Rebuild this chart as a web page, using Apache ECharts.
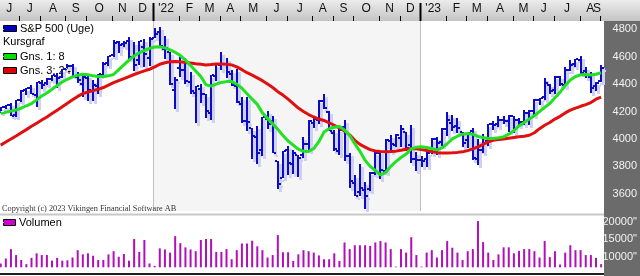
<!DOCTYPE html>
<html><head><meta charset="utf-8">
<script src="https://cdn.jsdelivr.net/npm/echarts@6/dist/echarts.min.js"></script>
<style>html,body{margin:0;padding:0;background:#fff}#c{width:640px;height:276px}</style>
</head><body><div id="c"></div><script>
// Weekly S&P 500 bars, week index 0 = week ending Fri 4 Jun 2021 ... 117 = week ending Fri 1 Sep 2023
const openP = [4216,4230,4248,4174,4285,4356,4372,4318,4411,4406,4438,4462,4450,4513,4535,4449,4402,4444,4349,4386,4464,4553,4610,4707,4689,4712,4599,4572,4669,4587,4733,
4778,4655,4632,4357,4519,4506,4412,4332,4363,4328,4188,4462,4542,4547,4474,4385,4255,4130,4082,4014,3920,4147,4134,3838,3715,3920,3815,3880,3883,3965,4113,4138,4280,4195,4041,3910,4084,3873,3682,3610,3625,3638,3754,3901,3766,3982,3956,4006,4053,3954,3853,3843,
3853,3910,3999,3979,4071,4119,4096,4052,3992,4055,3855,3917,3986,4112,4110,4136,4133,4166,4136,4126,4192,4205,4282,4304,4396,4354,4450,4394,4501,4543,4578,4492,4454,4389,4426];
const highP = [4234,4249,4262,4287,4356,4372,4393,4415,4430,4441,4468,4480,4513,4545,4549,4485,4466,4465,4429,4475,4559,4608,4718,4714,4717,4743,4705,4713,4732,4740,4808,
4818,4749,4632,4453,4595,4590,4489,4385,4402,4329,4465,4546,4637,4593,4500,4513,4309,4308,4082,4091,4158,4205,4169,3838,3913,3946,3918,3880,4013,4141,4167,4281,4325,4204,4062,4076,4139,3899,3736,3820,3685,3762,3905,3912,3999,4028,4034,4101,4053,4101,3906,3878,
3906,4004,4015,4078,4195,4176,4156,4052,4048,4079,4000,4039,4110,4133,4164,4170,4171,4170,4155,4212,4213,4290,4298,4448,4400,4458,4456,4528,4578,4583,4607,4528,4490,4418,4541];
const lowP = [4188,4220,4164,4164,4271,4321,4326,4233,4362,4387,4425,4367,4450,4513,4458,4406,4306,4279,4279,4329,4464,4537,4595,4630,4672,4585,4496,4538,4531,4531,4733,
4662,4582,4395,4223,4451,4401,4327,4115,4267,4157,4138,4425,4506,4450,4381,4268,4118,4062,3859,3811,3875,4074,3901,3637,3715,3738,3743,3722,3863,3913,4080,4108,4218,4057,3907,3886,3838,3647,3584,3585,3491,3624,3735,3705,3751,3906,3937,3941,3918,3827,3764,3800,
3794,3885,3886,3949,4017,4061,4047,3944,3928,3847,3809,3899,3950,4069,4086,4113,4049,4048,4098,4099,4103,4166,4247,4291,4328,4328,4385,4384,4497,4528,4475,4450,4335,4356,4417];
const closeP = [4230,4247,4166,4281,4352,4370,4327,4412,4395,4437,4468,4442,4509,4535,4458,4433,4455,4357,4391,4471,4545,4605,4697,4682,4698,4595,4538,4712,4620,4726,4766,
4677,4662,4398,4432,4500,4419,4349,4385,4329,4204,4463,4543,4546,4488,4393,4272,4132,4123,4024,3901,4158,4109,3901,3675,3912,3825,3899,3863,3962,4130,4145,4280,4228,4058,3924,4067,3873,3693,3586,3640,3583,3753,3901,3771,3993,3965,4026,4072,3934,3852,3845,3840,
3895,3999,3973,4071,4136,4090,4079,3970,4046,3862,3917,3971,4109,4105,4138,4133,4169,4136,4124,4192,4205,4282,4299,4410,4348,4450,4399,4505,4536,4582,4478,4464,4370,4406,4516];
// Gns. 1: 8 (green) and Gns. 3: 24 (red)
const ma8 = [4187,4195,4203,4211,4225,4242,4258,4285,4313,4335,4362,4390,4415,4435,4452,4465,4471,4468,4460,4455,4455,4460,4470,4505,4540,4575,4605,4628,4645,4660,4670,
4672,4664,4650,4632,4608,4575,4535,4495,4455,4395,4385,4400,4412,4418,4418,4400,4370,4330,4290,4252,4190,4150,4110,4070,4025,3985,3955,3925,3910,3908,3930,3980,4050,4075,4085,4090,4065,4025,3965,3910,3845,3800,3770,3738,3755,3800,3835,3865,3890,3928,3940,3943,
3937,3930,3920,3935,3965,4000,4020,4035,4040,4035,4018,4010,4004,4004,4008,4015,4035,4060,4095,4120,4145,4170,4200,4230,4258,4300,4340,4390,4430,4455,4468,4470,4466,4472,4483];
const ma24 = [3955,3978,4000,4022,4045,4068,4092,4115,4138,4160,4185,4210,4235,4260,4285,4310,4330,4342,4352,4362,4375,4392,4410,4425,4440,4455,4470,4483,4496,4508,4525,
4545,4556,4562,4564,4562,4558,4553,4548,4544,4540,4542,4546,4547,4545,4540,4525,4505,4483,4465,4445,4425,4400,4375,4345,4320,4290,4258,4225,4200,4178,4160,4145,4135,4118,4100,4080,4058,4030,3990,3960,3940,3922,3912,3908,3907,3908,3911,3918,3925,3931,3928,3922,
3916,3908,3900,3898,3898,3899,3902,3906,3915,3928,3942,3960,3980,3990,3995,3999,4005,4011,4016,4020,4027,4045,4075,4100,4120,4145,4165,4190,4210,4225,4238,4250,4265,4290,4305];
const volume = [8100,9500,12200,10500,9100,7900,9700,11000,10500,10500,8900,9700,8900,9000,9800,11900,10700,11000,10300,9100,9100,10700,11600,10000,10800,8900,15100,11400,14800,8100,7400,
12400,12100,11200,15900,13900,12700,12100,11600,14800,15100,15100,11400,11400,12200,9300,11900,13800,13800,14600,13000,11900,9800,10500,16200,11300,11300,8800,10700,11900,11600,11200,10400,9300,9300,11000,8800,14100,12200,13300,13300,13300,13100,14100,14500,14100,12200,7200,12200,11200,15600,10500,7200,
11200,11900,9800,11900,14500,12600,11200,9100,11600,12200,20200,14200,11200,9100,10700,12700,12700,11000,11700,12200,12200,11600,9800,14500,9900,11600,7800,11200,13300,11900,11900,10500,10500,9700,7900];
// month boundaries (first week index of each month) and top-axis labels
const monthStart = [0,4,8,13,17,22,26,30,35,39,43,47,52,56,61,65,69,74,78,82,87,91,95,100,104,108,113,117];
const monthLabels = ['J','J','A','S','O','N','D',"'22",'F','M','A','M','J','J','A','S','O','N','D',"'23",'F','M','A','M','J','J','A','S'];
const priceTicks = [3600,3800,4000,4200,4400,4600,4800];
const volumeTicks = [10000,15000,20000];

const XMIN = -0.136, XMAX = 117.364, TOFF = 0.4;
const chart = echarts.init(document.getElementById('c'), null, {renderer:'canvas'});
const FONT = '"Liberation Sans", Arial, sans-serif';

function ohlcItem(color, dx, dy, w) {
  return function (params, api) {
    const i = api.value(0);
    const pH = api.coord([i, api.value(2)]), pL = api.coord([i, api.value(3)]);
    const pO = api.coord([i, api.value(1)]), pC = api.coord([i, api.value(4)]);
    const x = Math.round(pH[0]);
    const st = {fill: color};
    return {type:'group', children:[
      {type:'rect', shape:{x:x-1+dx, y:Math.round(pH[1])+dy, width:w, height:Math.max(2,Math.round(pL[1]-pH[1]))}, style:st},
      {type:'rect', shape:{x:x-3+dx, y:Math.round(pO[1])-1+dy, width:2, height:2}, style:st},
      {type:'rect', shape:{x:x+1+dx, y:Math.round(pC[1])-1+dy, width:2, height:2}, style:st}
    ]};
  };
}
const ohlcData = openP.map((o,i)=>[i,o,highP[i],lowP[i],closeP[i]]);

const option = {
  animation:false,
  grid:[
    {left:0, top:21, width:604, height:192},
    {left:0, top:214.8, width:604, height:52.5},
    {left:0, top:0, width:604, height:21}
  ],
  xAxis:[
    {type:'value', gridIndex:0, min:XMIN, max:XMAX, show:false},
    {type:'value', gridIndex:1, min:XMIN, max:XMAX, show:false},
    {type:'value', gridIndex:2, min:XMIN, max:XMAX, show:false}
  ],
  yAxis:[
    {type:'value', gridIndex:0, position:'right', min:3460, max:4860, z:10,
     splitLine:{show:false}, axisLine:{show:false},
     axisTick:{show:true, length:3, customValues:priceTicks, lineStyle:{color:'#ffffff', width:1}},
     axisLabel:{customValues:priceTicks, align:'right', margin:34, color:'#f2f2f2', fontSize:11, fontFamily:FONT, formatter:v=>String(v)}},
    {type:'value', gridIndex:1, position:'right', min:7000, max:22000, z:10,
     splitLine:{show:false}, axisLine:{show:false},
     axisTick:{show:true, length:3, customValues:volumeTicks, lineStyle:{color:'#ffffff', width:1}},
     axisLabel:{customValues:volumeTicks, align:'right', margin:34, color:'#f2f2f2', fontSize:11, fontFamily:FONT, formatter:v=>String(v)+'"'}},
    {type:'value', gridIndex:2, min:0, max:1, show:false}
  ],
  graphic:[
    {type:'rect', z:0, shape:{x:0,y:0,width:640,height:21}, silent:true,
     style:{fill:new echarts.graphic.LinearGradient(0,0,0,1,[{offset:0,color:'#ececec'},{offset:1,color:'#c4c4c4'}])}},
    {type:'rect', z:0, shape:{x:604,y:21,width:36,height:255}, style:{fill:'#6b6b6b'}, silent:true},
    {type:'line', z:1, shape:{x1:0,y1:214.5,x2:604,y2:214.5}, style:{stroke:'#c8c8c8', lineWidth:2}},
    {type:'line', z:1, shape:{x1:0,y1:274,x2:604,y2:274}, style:{stroke:'#202020', lineWidth:2}},
    // legend (drawn under the series like the original)
    {type:'rect', z:1, shape:{x:3.5,y:25.5,width:13,height:6}, style:{fill:'#0000c0', stroke:'#000', lineWidth:1}},
    {type:'text', z:1, x:20, y:29, style:{text:'S&P 500 (Uge)', fill:'#000', font:'11px '+FONT, verticalAlign:'middle'}},
    {type:'text', z:1, x:3, y:42, style:{text:'Kursgraf', fill:'#000', font:'11px '+FONT, verticalAlign:'middle'}},
    {type:'rect', z:1, shape:{x:3.5,y:53.5,width:13,height:6}, style:{fill:'#00e000', stroke:'#000', lineWidth:1}},
    {type:'text', z:1, x:20, y:56.5, style:{text:'Gns. 1: 8', fill:'#000', font:'11px '+FONT, verticalAlign:'middle'}},
    {type:'rect', z:1, shape:{x:3.5,y:67.5,width:13,height:6}, style:{fill:'#e00000', stroke:'#000', lineWidth:1}},
    {type:'text', z:1, x:20, y:70.5, style:{text:'Gns. 3: 24', fill:'#000', font:'11px '+FONT, verticalAlign:'middle'}},
    {type:'text', z:20, x:2, y:208.5, scaleX:0.92, style:{text:'Copyright (c) 2023 Vikingen Financial Software AB', fill:'#333', font:'9px "Liberation Serif", "Times New Roman", serif', verticalAlign:'middle'}},
    {type:'rect', z:1, shape:{x:3.5,y:219.5,width:12,height:6}, style:{fill:'#d000d0', stroke:'#000', lineWidth:1}},
    {type:'text', z:1, x:19, y:222.5, style:{text:'Volumen', fill:'#000', font:'11px '+FONT, verticalAlign:'middle'}}
  ],
  series:[
    // month axis, year separators and 2022 shading
    {type:'custom', xAxisIndex:2, yAxisIndex:2, z:1, silent:true,
     data: monthStart.map((s,k)=>[s - TOFF, k]),
     renderItem:(params, api)=>{
       const k = api.value(1);
       const x = Math.round(api.coord([api.value(0),0])[0]) + 0.5;
       const nextV = k < monthStart.length-1 ? monthStart[k+1]-TOFF : XMAX;
       const xn = api.coord([nextV,0])[0];
       const lab = monthLabels[k];
       const isYear = lab.charAt(0)==="'";
       const ch = [];
       let cx = (x + xn)/2, align='center';
       if (k === monthStart.length-1) { cx = 601; align='right'; }
       ch.push({type:'text', x:cx, y:8.5, style:{text:lab, fill:'#111', font:'12px '+FONT, align:align, verticalAlign:'middle'}});
       if (isYear) {
         let j = k+1; while (j<monthLabels.length && monthLabels[j].charAt(0)!=="'") j++;
         if (lab === "'22" && j < monthLabels.length) {
           const xe = Math.round(api.coord([monthStart[j]-TOFF,0])[0]) + 0.5;
           ch.unshift({type:'rect', shape:{x:x, y:21, width:xe-x, height:190}, style:{fill:'#f5f5f5'}});
         }
         ch.push({type:'line', shape:{x1:x,y1:21,x2:x,y2:211}, style:{stroke:'#c0c0c0', lineWidth:1}});
         ch.push({type:'rect', shape:{x:x-1,y:3,width:2,height:18}, style:{fill:'#000'}});
       } else if (x > 2) {
         ch.push({type:'line', shape:{x1:x,y1:16,x2:x,y2:21}, style:{stroke:'#000', lineWidth:1}});
       }
       return {type:'group', children:ch};
     }},
    {type:'custom', name:'shadow', xAxisIndex:0, yAxisIndex:0, z:2, silent:true, data:ohlcData, renderItem:ohlcItem('#d0d0f2',2,3,3)},
    {type:'custom', name:'S&P 500 (Uge)', xAxisIndex:0, yAxisIndex:0, z:3, silent:true, data:ohlcData, renderItem:ohlcItem('#0c0cc8',0,0,2)},
    {type:'line', name:'Gns. 3: 24', xAxisIndex:0, yAxisIndex:0, z:4, symbol:'none', silent:true,
     data: ma24.map((v,i)=>[i,v]), lineStyle:{color:'#e01010', width:3}},
    {type:'line', name:'Gns. 1: 8', xAxisIndex:0, yAxisIndex:0, z:5, symbol:'none', silent:true,
     data: ma8.map((v,i)=>[i,v]), lineStyle:{color:'#22e022', width:3}},
    {type:'bar', name:'Volumen', xAxisIndex:1, yAxisIndex:1, z:3, silent:true, barWidth:2,
     data: volume.map((v,i)=>[i,v]), itemStyle:{color:'#b010b8'}}
  ]
};
chart.setOption(option);
</script></body></html>
